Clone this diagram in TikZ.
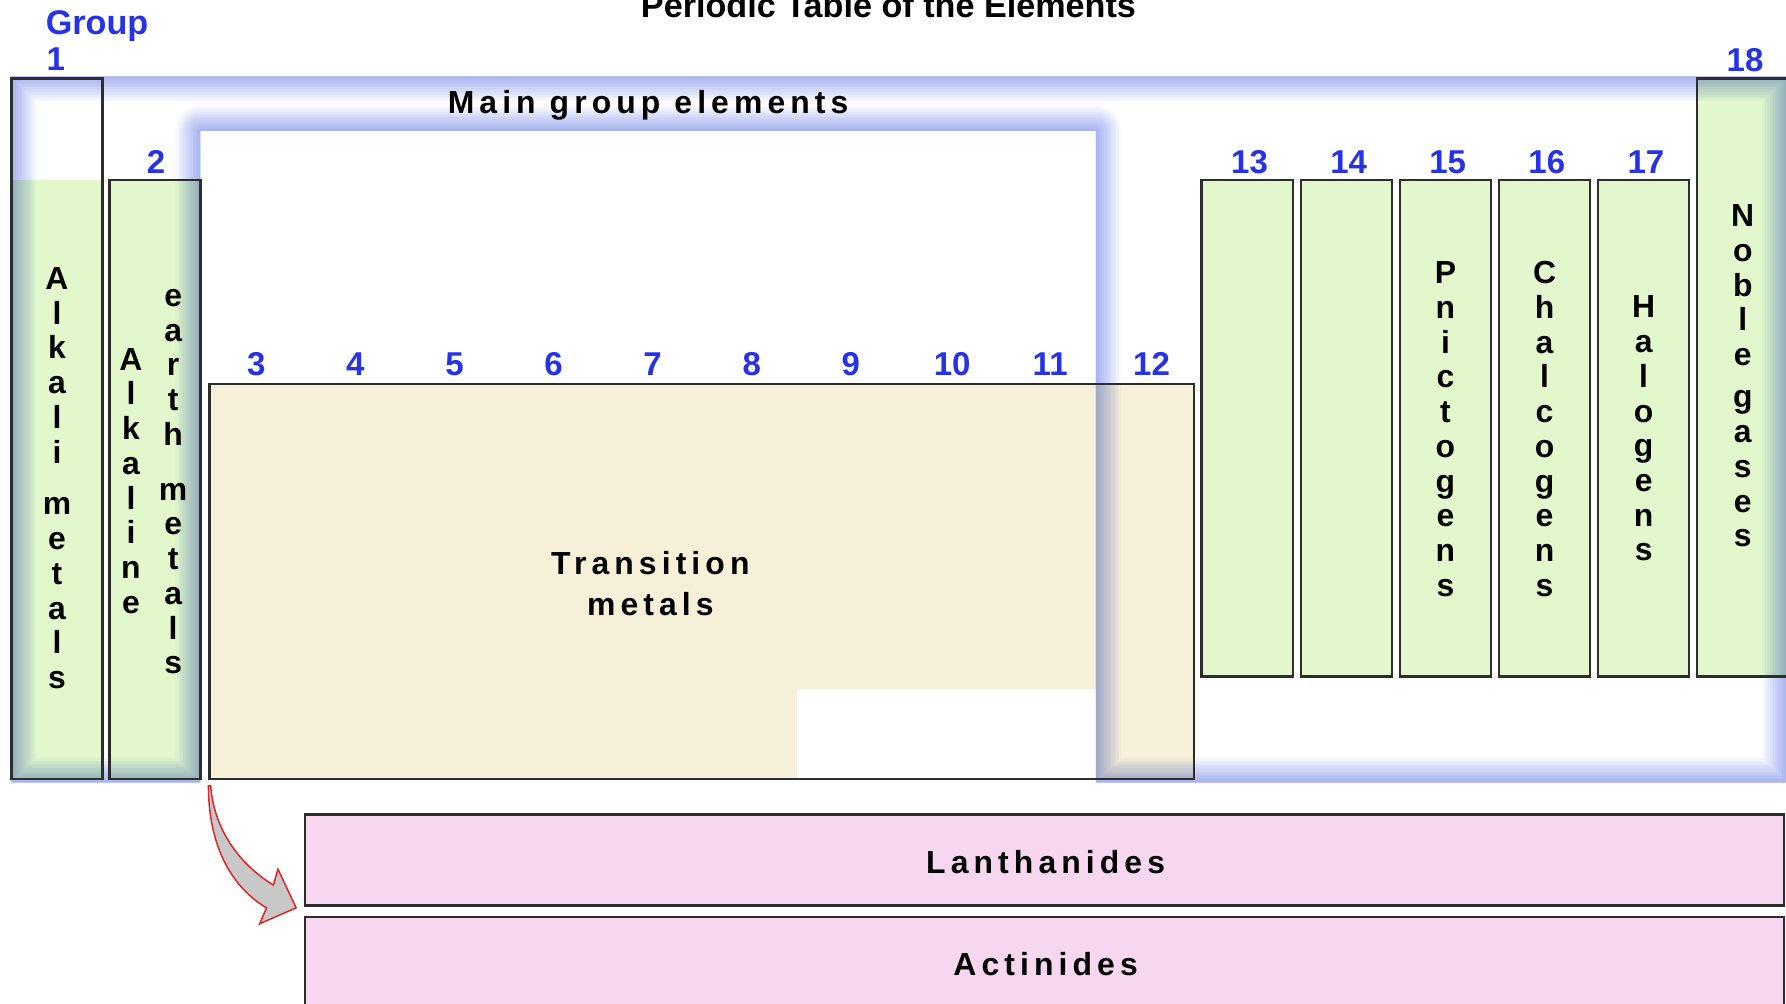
\documentclass[tikz,border=0pt]{standalone}
\usepackage{fontspec}
\setmainfont{Liberation Sans}
\newfontfamily\spfont[LetterSpace=16]{Liberation Sans}
\usetikzlibrary{calc}
\definecolor{grn}{RGB}{226,248,204}
\definecolor{trfill}{RGB}{247,240,216}
\definecolor{pnk}{RGB}{247,214,240}
\definecolor{lblue}{RGB}{38,50,232}
\definecolor{edgec}{RGB}{45,45,45}
\definecolor{glowc}{rgb}{0.9771,0.9811,0.9983}
\definecolor{arrred}{RGB}{225,35,35}
\definecolor{arrfill}{RGB}{200,200,200}
\newcommand\vl[1]{\hbox to 0pt{\hss#1\hss}}
\newcommand\stk[1]{\vtop{\baselineskip=30.5pt\lineskiplimit=-100pt\lineskip=0pt #1}}
\def\framepath{(10,67) -- (1569,67) -- (1569,687) -- (962,687) -- (962,115) -- (176,115) -- (176,687) -- (10,687) -- cycle}
\begin{document}
\begin{tikzpicture}[x=1pt,y=-1pt,
  box/.style={draw=none, inner sep=0pt, outer sep=0pt, anchor=north west},
  col/.style={box, fill=grn, minimum width=80pt},
  outline/.style={draw=edgec, line width=2.1pt},
  num/.style={anchor=base, inner sep=0pt, text=lblue, font=\bfseries\fontsize{29}{32}\selectfont},
  vt/.style={anchor=base, inner sep=0pt, font=\bfseries\fontsize{28}{30.5}\selectfont},
  lab/.style={anchor=base, inner sep=0pt, font=\spfont\bfseries\fontsize{28}{36}\selectfont},
]
\useasboundingbox (0,0) rectangle (1568,881);

% ---- box fills ----
\node[box, fill=white, minimum width=80pt, minimum height=615pt] (g1) at (10,69) {};
\node[col, minimum height=526pt] (g2) at (96,158) {};
\foreach \g [count=\k from 0] in {13,14,15,16,17}
  \node[col, minimum height=436pt] (g\g) at (1055+87*\k,158) {};
\node[col, minimum height=525pt] (g18) at (1490,69) {};
\node[box, fill=trfill, minimum width=864pt, minimum height=347pt] (trans) at (184,337) {};
\node[box, fill=pnk, minimum width=1298pt, minimum height=80pt] (lan) at (268,715) {};
\node[box, fill=pnk, minimum width=1298pt, minimum height=100pt] (act) at (268,805) {};
\fill[grn] (g1.south west) rectangle (g1.east |- g2.north);
\fill[white] (700,605) rectangle (962,684);

% ---- main group glow ----
\begin{scope}
  \clip \framepath;
  \begin{scope}[blend mode=multiply]
    \foreach \i in {1,...,16}
      \draw[glowc, line width=\i*2.75pt, line join=round] \framepath;
  \end{scope}
\end{scope}

% ---- outlines ----
\foreach \n in {g1,g2,g13,g14,g15,g16,g17,g18,trans,lan,act}
  \draw[outline] (\n.north west) rectangle (\n.south east);

% ---- arrow ----
\begin{scope}[shift={(trans.south west)}]
  \draw[arrred, fill=arrfill, line width=1.3pt, line join=miter]
    (-1,6) .. controls (-1,61) and (21,96) .. (50,113)
    -- (44,127) -- (76,113) -- (60,79) -- (56,93)
    .. controls (28,76) and (4,46) .. (1,6) -- cycle;
\end{scope}

% ---- titles ----
\node[anchor=base, inner sep=0pt, font=\bfseries\fontsize{30}{34}\selectfont] (title) at (780,15) {Periodic Table of the Elements};
\node[anchor=base west, inner sep=0pt, text=lblue, font=\bfseries\fontsize{30}{32}\selectfont] (grp) at (40,30) {Group};
\node[num] (n1) at (49,62) {1};
\node[num] (n2) at (137,152) {2};
\foreach \g/\xx in {13/1097,14/1184,15/1271,16/1358,17/1445}
  \node[num] (n\g) at (\xx,152) {\g};
\node[num] (n18) at (1532,63) {18};
\foreach \g/\xx in {3/225,4/312,5/399,6/486,7/573,8/660,9/747,10/836,11/922,12/1011}
  \node[num] (n\g) at (\xx,330) {\g};

\node[lab] (mge) at (569,100) {Main group elements};
\node[lab, align=center] (tm) at (571,540) {Transition\\metals};
\node[lab] (lant) at (918,767) {Lanthanides};
\node[lab] (acti) at (918,856) {Actinides};

% ---- vertical labels ----
\node[vt] (alk1) at (50,254) {\stk{\vl{A}\vl{l}\vl{k}\vl{a}\vl{l}\vl{i}}};
\node[vt] (alk2) at (50,452) {\stk{\vl{m}\vl{e}\vl{t}\vl{a}\vl{l}\vl{s}}};
\node[vt] (ae1) at (115,325) {\stk{\vl{A}\vl{l}\vl{k}\vl{a}\vl{l}\vl{i}\vl{n}\vl{e}}};
\node[vt] (ae2) at (152,269) {\stk{\vl{e}\vl{a}\vl{r}\vl{t}\vl{h}}};
\node[vt] (ae3) at (152,439) {\stk{\vl{m}\vl{e}\vl{t}\vl{a}\vl{l}\vl{s}}};
\node[vt] (pn) at (1269,249) {\stk{\vl{P}\vl{n}\vl{i}\vl{c}\vl{t}\vl{o}\vl{g}\vl{e}\vl{n}\vl{s}}};
\node[vt] (ch) at (1356,249) {\stk{\vl{C}\vl{h}\vl{a}\vl{l}\vl{c}\vl{o}\vl{g}\vl{e}\vl{n}\vl{s}}};
\node[vt] (ha) at (1443,279) {\stk{\vl{H}\vl{a}\vl{l}\vl{o}\vl{g}\vl{e}\vl{n}\vl{s}}};
\node[vt] (nb1) at (1530,199) {\stk{\vl{N}\vl{o}\vl{b}\vl{l}\vl{e}}};
\node[vt] (nb2) at (1530,358) {\stk{\vl{g}\vl{a}\vl{s}\vl{e}\vl{s}}};
\end{tikzpicture}
\end{document}
